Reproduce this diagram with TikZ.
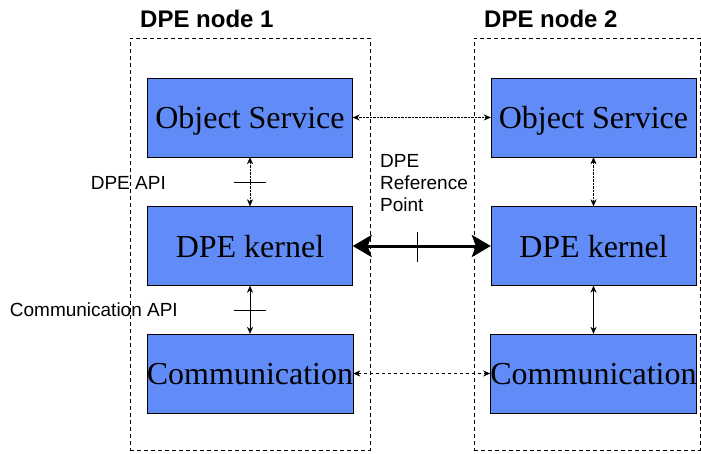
\documentclass[tikz,border=0pt]{standalone}
\usepackage{fontspec}
\setmainfont{Liberation Serif}
\newfontfamily\arialfont{Liberation Sans}
\usetikzlibrary{positioning,calc,arrows.meta}
\definecolor{boxblue}{RGB}{97,139,247}

\tikzset{
  block/.style={draw, fill=boxblue, minimum width=205pt, minimum height=79pt,
    inner sep=0pt, text depth=0pt, font=\fontsize{32}{34}\selectfont},
  dpenode/.style={draw, dash pattern=on 4pt off 3pt, minimum height=412pt, inner sep=0pt},
  title/.style={font=\arialfont\bfseries\fontsize{24}{28}\selectfont, inner sep=0pt},
  lbl/.style={font=\arialfont\fontsize{19}{22}\selectfont, inner sep=0pt},
  link/.style={{Stealth[length=7pt,width=6pt]}-{Stealth[length=7pt,width=6pt]}},
}

\begin{document}
\begin{tikzpicture}[x=1pt, y=-1pt]
  \useasboundingbox (0,0) rectangle (701,453);
  % the two DPE nodes
  \node (n1) [dpenode, minimum width=240pt] at (250,244) {};
  \node (n2) [dpenode, minimum width=226pt] at (587,244) {};
  \node (t1) [title, anchor=base west] at (140,27) {DPE node 1};
  \node (t2) [title, anchor=base west] at (484,27) {DPE node 2};

  \node (os1) [block] at (250,117.5) {Object Service};
  \node (k1)  [block] at (250,246) {DPE kernel};
  \node (c1)  [block] at (250,373.5) {Communication};
  \node (os2) [block] at (593.5,117.5) {Object Service};
  \node (k2)  [block] at (593.5,246) {DPE kernel};
  \node (c2)  [block] at (593.5,373.5) {Communication};

  % inside node 1
  \draw [link, densely dotted] (os1) -- (k1);
  \draw ($(os1.south)!.5!(k1.north)$) +(-16,0) -- +(16,0);
  \draw [link] (k1) -- (c1);
  \draw ($(k1.south)!.5!(c1.north)$) +(-16,0) -- +(16,0);
  % inside node 2
  \draw [link, densely dotted] (os2) -- (k2);
  \draw [link] (k2) -- (c2);

  % between the nodes
  \draw [link, densely dotted] (os1) -- (os2);
  \draw [line width=3pt, {Stealth[length=19pt,width=22pt,inset=4pt]}-{Stealth[length=19pt,width=22pt,inset=4pt]}] (k1) -- (k2);
  \draw ($(k1.east)!.47!(k2.west)$) +(0,-14) -- +(0,16);
  \draw [link, dashed] (c1) -- (c2);

  \node (api) [lbl, anchor=east] at (166,183) {DPE API};
  \node (capi) [lbl, anchor=east] at (178,310) {Communication API};
  \node (ref) [lbl, anchor=base west, align=left] at (380,211) {DPE\\Reference\\Point};
\end{tikzpicture}
\end{document}
